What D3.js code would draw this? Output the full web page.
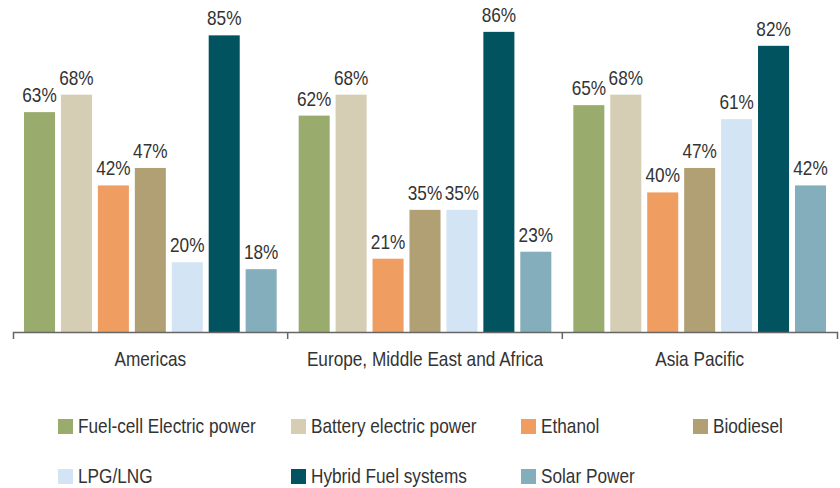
<!DOCTYPE html>
<html>
<head>
<meta charset="utf-8">
<script src="https://cdn.jsdelivr.net/npm/d3@7"></script>
<style>
  body { margin: 0; background: #fff; }
  text { font-family: "Liberation Sans", Arial, sans-serif; fill: #333; }
</style>
</head>
<body>
<div id="chart"></div>
<script>
// regions along the x axis
var regions = ["Americas", "Europe, Middle East and Africa", "Asia Pacific"];

// fuel types (legend order)
var fuels = ["Fuel-cell Electric power", "Battery electric power", "Ethanol", "Biodiesel",
             "LPG/LNG", "Hybrid Fuel systems", "Solar Power"];

// values in %, one array per region, in fuel order
var americas = [63, 68, 42, 47, 20, 85, 18];
var emea     = [62, 68, 21, 35, 35, 86, 23];
var apac     = [65, 68, 40, 47, 61, 82, 42];

var colors = ["#9aab6e", "#d6cdb5", "#f09d62", "#b0a074", "#d3e5f5", "#00535f", "#84aebb"];

var values = [americas, emea, apac];

var width = 840, height = 488;
var baseY = 332;
var narrow = " scale(0.82,1)";   // fake a condensed face, no narrow font installed

var svg = d3.select("#chart")
    .append("svg")
    .attr("width", width)
    .attr("height", height);

// outer scale: one band per region
var x0 = d3.scaleBand()
    .domain(regions)
    .range([13, 837])
    .padding(0);

// inner scale: one bar per fuel
var x1 = d3.scaleBand()
    .domain(fuels)
    .range([11, x0.bandwidth() - 11])
    .paddingInner(0.16)
    .paddingOuter(0);

var y = d3.scaleLinear()
    .domain([0, 100])
    .range([baseY, baseY - 349]);

var color = d3.scaleOrdinal().domain(fuels).range(colors);

// bars
var groups = svg.append("g")
    .selectAll("g")
    .data(regions)
    .enter()
    .append("g")
    .attr("transform", d => "translate(" + x0(d) + ",0)");

groups.selectAll("rect")
    .data((d, i) => values[i].map((v, j) => ({ fuel: fuels[j], value: v })))
    .enter()
    .append("rect")
    .attr("x", d => x1(d.fuel))
    .attr("y", d => y(d.value))
    .attr("width", x1.bandwidth())
    .attr("height", d => baseY - y(d.value))
    .attr("fill", d => color(d.fuel));

// value labels
groups.selectAll("text")
    .data((d, i) => values[i].map((v, j) => ({ fuel: fuels[j], value: v })))
    .enter()
    .append("text")
    .attr("transform", d => "translate(" + (x1(d.fuel) + x1.bandwidth() / 2) + "," + (y(d.value) - 10) + ")" + narrow)
    .attr("text-anchor", "middle")
    .attr("font-size", "21px")
    .text(d => d.value + "%");

// x axis
var xAxis = svg.append("g")
    .attr("transform", "translate(0," + baseY + ")")
    .call(d3.axisBottom(x0).tickSize(0).tickSizeOuter(7).tickPadding(19));

xAxis.select(".domain")
    .attr("stroke", "#666")
    .attr("stroke-width", 1.5);

xAxis.selectAll(".tick text")
    .attr("font-size", "21px")
    .attr("fill", "#333")
    .attr("transform", narrow);

// inner boundary ticks between regions
xAxis.selectAll(".sep")
    .data(regions.slice(1))
    .enter()
    .append("line")
    .attr("class", "sep")
    .attr("x1", d => x0(d))
    .attr("x2", d => x0(d))
    .attr("y1", 0)
    .attr("y2", 7)
    .attr("stroke", "#666")
    .attr("stroke-width", 1.5);

// legend
var legendX = [58, 291, 521, 693];
var legend = svg.append("g")
    .selectAll("g")
    .data(fuels)
    .enter()
    .append("g")
    .attr("transform", (d, i) => "translate(" + legendX[i % 4] + "," + (419 + Math.floor(i / 4) * 50) + ")");

legend.append("rect")
    .attr("width", 15)
    .attr("height", 15)
    .attr("fill", d => color(d));

legend.append("text")
    .attr("transform", "translate(20,14)" + narrow)
    .attr("font-size", "21px")
    .text(d => d);
</script>
</body>
</html>
